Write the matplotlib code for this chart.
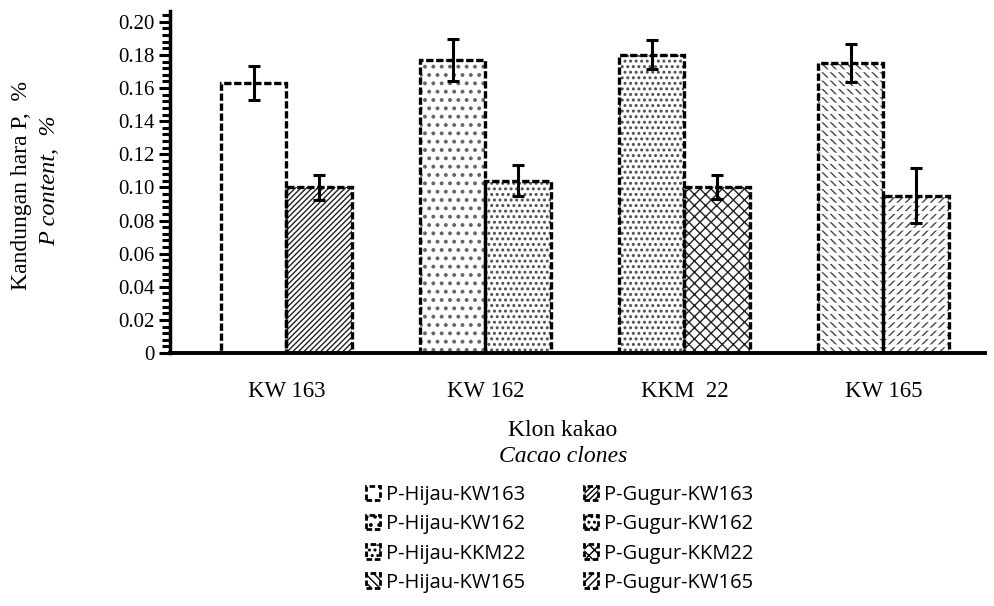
import matplotlib
matplotlib.use("Agg")
import matplotlib.pyplot as plt
from matplotlib import hatch as mhatch
from matplotlib.patches import Patch
from matplotlib.ticker import MultipleLocator, FuncFormatter
import numpy as np

plt.rcParams['hatch.linewidth'] = 1.0
mhatch.SmallFilledCircles.size = 0.15

clones = ["KW 163", "KW 162", "KKM  22", "KW 165"]
hijau = [0.163, 0.177, 0.180, 0.175]
hijau_err = [0.0100, 0.0128, 0.0087, 0.0116]
gugur = [0.100, 0.104, 0.100, 0.095]
gugur_err = [0.0074, 0.0094, 0.0073, 0.0168]
hijau_labels = ["P-Hijau-KW163", "P-Hijau-KW162", "P-Hijau-KKM22", "P-Hijau-KW165"]
gugur_labels = ["P-Gugur-KW163", "P-Gugur-KW162", "P-Gugur-KKM22", "P-Gugur-KW165"]

hijau_hatch = [None, '..', '...', '\\\\\\\\']
gugur_hatch = ['//////', '...', 'xxx', '////']
hijau_hcol = ['black', '#666666', '#555555', '#444444']
gugur_hcol = ['#222222', '#555555', '#222222', '#444444']
hijau_rows = [False, False, False, True]
gugur_rows = [False, False, False, True]

serif = 'Liberation Serif'
edge_ls = (0, (2.2, 0.8))

fig = plt.figure(figsize=(9.95, 6.06), dpi=100)
ax = fig.add_axes([170/995, 1-353/606, (985-170)/995, (353-11)/606])

x = np.arange(len(clones))
w = 0.33

for i in range(len(clones)):
    for xo, val, err, hatch, hc, rows in [
            (x[i]-w/2, hijau[i], hijau_err[i], hijau_hatch[i], hijau_hcol[i], hijau_rows[i]),
            (x[i]+w/2, gugur[i], gugur_err[i], gugur_hatch[i], gugur_hcol[i], gugur_rows[i])]:
        ax.bar(xo, val, w, color='white', edgecolor=hc, hatch=hatch, linewidth=0, zorder=2)
        if rows:
            with plt.rc_context({'hatch.linewidth': 2.0}):
                bb = ax.bar(xo, val, w, color='none', edgecolor='white', hatch='--',
                            linewidth=0, zorder=2.5)
            for p in bb.patches:
                if hasattr(p, 'set_hatch_linewidth'):
                    p.set_hatch_linewidth(2.0)
        ax.bar(xo, val, w, fill=False, edgecolor='black', linestyle=edge_ls, linewidth=2.4, zorder=3)
        ax.errorbar(xo, val, yerr=err, fmt='none', ecolor='black', elinewidth=2.2,
                    capsize=4.5, capthick=2.2, zorder=4)

ax.set_xlim(-0.585, 3.51)
ax.set_ylim(0, 0.2065)
ax.set_xticks(x)
ax.set_xticklabels(clones, fontsize=16.5, family=serif)
ax.tick_params(axis='x', length=0, pad=20)
ax.yaxis.set_major_locator(MultipleLocator(0.02))
ax.yaxis.set_minor_locator(MultipleLocator(0.004))
ax.yaxis.set_major_formatter(FuncFormatter(lambda v, p: "0" if abs(v) < 1e-9 else f"{v:.2f}"))
ax.tick_params(axis='y', which='major', length=8, width=2.2, direction='out', labelsize=15, pad=3)
ax.tick_params(axis='y', which='minor', length=6, width=2.2, direction='out')
for lab in ax.get_yticklabels():
    lab.set_family(serif)
for s in ['top', 'right']:
    ax.spines[s].set_visible(False)
ax.spines['left'].set_linewidth(2.5)
ax.spines['bottom'].set_linewidth(2.8)

fig.text(22/995, 1-185/606, "Kandungan hara P,  %", rotation=90, ha='center', va='center',
         fontsize=17, family=serif)
fig.text(50/995, 1-181/606, "P content,  %", rotation=90, ha='center', va='center',
         fontsize=17.5, family=serif, style='italic')
fig.text(563/995, 1-431/606, "Klon kakao", ha='center', va='center', fontsize=17, family=serif)
fig.text(563/995, 1-456/606, "Cacao clones", ha='center', va='center', fontsize=17,
         family=serif, style='italic')

handles = []
labels = []
for i in range(4):
    handles.append(Patch(facecolor='white', edgecolor='black', hatch=hijau_hatch[i], linewidth=2,
                         linestyle=(0, (2, 1))))
    labels.append(hijau_labels[i])
for i in range(4):
    handles.append(Patch(facecolor='white', edgecolor='black', hatch=gugur_hatch[i], linewidth=2,
                         linestyle=(0, (2, 1))))
    labels.append(gugur_labels[i])

leg = fig.legend(handles, labels, ncol=2, loc='center', bbox_to_anchor=(560/995, 1-539/606),
                 frameon=False, prop={'family': 'Open Sans', 'size': 14.5},
                 handlelength=0.7, handleheight=0.7, handletextpad=0.3,
                 columnspacing=2.9, labelspacing=0.45)

fig.savefig("out.png", dpi=100)
